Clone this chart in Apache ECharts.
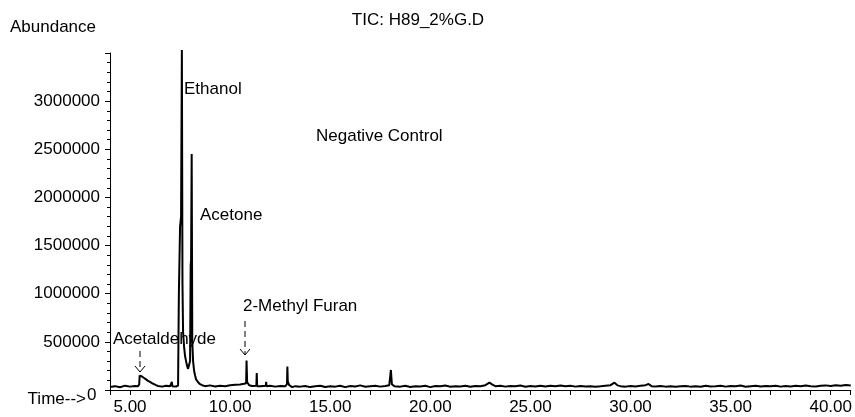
<!DOCTYPE html>
<html>
<head>
<meta charset="utf-8">
<script src="https://cdn.jsdelivr.net/npm/echarts@6/dist/echarts.min.js"></script>
<style>
html,body{margin:0;padding:0;background:#fff;}
#chart{width:855px;height:417px;}
</style>
</head>
<body>
<div id="chart"></div>
<script>
// Retention time (min)
const timeMin = [
  4.00, 4.25, 4.50, 4.75, 5.00, 5.25, 5.40,
  5.46, 5.48, 5.52, 5.60, 5.70, 5.80, 5.90, 6.00, 6.10, 6.20, 6.30, 6.40,
  6.60, 6.80, 7.00, 7.07, 7.09, 7.11, 7.20, 7.30, 7.40,
  7.43, 7.44, 7.47, 7.50, 7.55, 7.59, 7.62, 7.65, 7.70, 7.75, 7.80, 7.85, 7.90, 7.95, 8.00,
  8.03, 8.05, 8.08, 8.11, 8.15, 8.20, 8.25, 8.30, 8.40, 8.50, 8.60,
  8.75, 9.00, 9.25, 9.50, 9.75, 10.00, 10.25, 10.50, 10.70, 10.80,
  10.82, 10.85, 10.95, 11.10, 11.31, 11.33, 11.35, 11.50, 11.78, 11.80, 11.82,
  12.00, 12.25, 12.50, 12.75, 12.84, 12.86, 12.88, 12.95, 13.10, 13.25, 13.50, 13.75,
  14.00, 14.25, 14.50, 14.75, 15.00, 15.25, 15.50, 15.75, 16.00, 16.25, 16.50, 16.75,
  17.00, 17.25, 17.50, 17.75, 17.95, 18.03, 18.08, 18.20, 18.50, 18.75, 19.00, 19.25,
  19.50, 19.75, 20.00, 20.25, 20.50, 20.75, 21.00, 21.25, 21.50, 21.75, 22.00, 22.25,
  22.50, 22.75, 22.95, 23.10, 23.25, 23.50, 23.75, 24.00, 24.25, 24.50, 24.75, 25.00,
  25.25, 25.50, 25.75, 26.00, 26.25, 26.50, 26.75, 27.00, 27.25, 27.50, 27.75, 28.00,
  28.25, 28.50, 28.75, 29.00, 29.20, 29.35, 29.50, 29.75, 30.00, 30.25, 30.50, 30.75,
  30.90, 31.05, 31.25, 31.50, 31.75, 32.00, 32.25, 32.50, 32.75, 33.00, 33.25, 33.50,
  33.75, 34.00, 34.25, 34.50, 34.75, 35.00, 35.25, 35.50, 35.75, 36.00, 36.25, 36.50,
  36.75, 37.00, 37.25, 37.50, 37.75, 38.00, 38.25, 38.50, 38.75, 39.00, 39.25, 39.50,
  39.75, 40.00, 40.25, 40.50, 40.75, 41.00
];
// Abundance (counts)
const abundance = [
  32000, 40000, 28000, 45000, 35000, 42000, 38000,
  60000, 150000, 155000, 140000, 125000, 110000, 95000, 85000, 70000, 60000, 50000, 42000,
  35000, 45000, 38000, 40000, 85000, 40000, 42000, 36000, 45000,
  50000, 1000000, 1020000, 1700000, 1800000, 3530000, 1100000, 600000, 450000, 350000, 300000, 250000, 220000, 200000, 300000,
  1300000, 1350000, 2450000, 500000, 300000, 200000, 150000, 110000, 80000, 60000, 50000,
  40000, 48000, 36000, 45000, 40000, 50000, 55000, 58000, 65000, 70000,
  305000, 80000, 50000, 42000, 45000, 177000, 40000, 38000, 45000, 85000, 40000,
  45000, 35000, 42000, 38000, 60000, 243000, 90000, 50000, 30000, 40000, 35000, 42000,
  30000, 38000, 44000, 32000, 40000, 35000, 45000, 30000, 42000, 36000, 48000, 34000,
  40000, 45000, 35000, 42000, 50000, 208000, 60000, 40000, 35000, 45000, 32000, 40000,
  36000, 44000, 30000, 42000, 38000, 46000, 34000, 40000, 36000, 45000, 33000, 41000,
  38000, 50000, 76000, 55000, 40000, 45000, 35000, 42000, 38000, 46000, 33000, 41000,
  37000, 44000, 36000, 45000, 38000, 47000, 40000, 44000, 35000, 42000, 37000, 40000,
  33000, 38000, 45000, 50000, 76000, 48000, 40000, 35000, 42000, 37000, 44000, 50000,
  62000, 40000, 36000, 42000, 35000, 40000, 33000, 38000, 42000, 35000, 40000, 33000,
  44000, 36000, 40000, 45000, 35000, 42000, 38000, 46000, 34000, 40000, 44000, 36000,
  42000, 38000, 45000, 35000, 41000, 37000, 44000, 39000, 46000, 40000, 36000, 44000,
  48000, 42000, 50000, 45000, 52000, 46000
];
const xTickLabels = [5, 10, 15, 20, 25, 30, 35, 40];
const yTickLabels = [500000, 1000000, 1500000, 2000000, 2500000, 3000000];
const peakNames = ['Ethanol', 'Acetone', '2-Methyl Furan', 'Acetaldehyde'];

const FONT = 'Liberation Sans, Arial, sans-serif';
const FS = 17;

const chart = echarts.init(document.getElementById('chart'), null, {renderer: 'canvas'});
const seriesData = timeMin.map((t, i) => [t, abundance[i]]);

function txt(text, x, y, align) {
  return {
    type: 'text', x: x, y: y,
    style: {text: text, fill: '#000', font: FS + 'px ' + FONT, textAlign: align || 'left', textVerticalAlign: 'middle'}
  };
}
function dashedArrow(x, y1, y2) {
  return [
    {type: 'line', shape: {x1: x, y1: y1, x2: x, y2: y2}, style: {stroke: '#000', lineWidth: 1, lineDash: [6, 4]}},
    {type: 'polyline', shape: {points: [[x - 5, y2 - 6], [x, y2], [x + 5, y2 - 6]]}, style: {stroke: '#000', lineWidth: 1, fill: null}}
  ];
}

chart.setOption({
  animation: false,
  backgroundColor: '#fff',
  grid: {left: 110, right: 4, top: 53, bottom: 27, containLabel: false},
  xAxis: {
    type: 'value', min: 4, max: 41, interval: 1,
    axisLine: {lineStyle: {color: '#000', width: 1}},
    axisTick: {show: true, length: 5, lineStyle: {color: '#000'}},
    axisLabel: {
      margin: 9, color: '#000', fontSize: FS, fontFamily: FONT,
      showMinLabel: true, showMaxLabel: true,
      formatter: v => xTickLabels.indexOf(Math.round(v)) >= 0 && Math.abs(v - Math.round(v)) < 1e-6 ? v.toFixed(2) : ''
    },
    splitLine: {show: false}
  },
  yAxis: {
    type: 'value', min: 0, max: 3500000, interval: 500000,
    axisLine: {show: true, lineStyle: {color: '#000', width: 1}},
    axisTick: {show: true, length: 5, lineStyle: {color: '#000'}},
    minorTick: {show: true, splitNumber: 5, length: 3, lineStyle: {color: '#000'}},
    axisLabel: {
      margin: 10, color: '#000', fontSize: FS, fontFamily: FONT,
      formatter: v => yTickLabels.indexOf(v) >= 0 ? String(v) : ''
    },
    splitLine: {show: false},
    minorSplitLine: {show: false}
  },
  series: [{
    type: 'line',
    data: seriesData,
    showSymbol: false,
    clip: false,
    lineStyle: {color: '#000', width: 2},
    silent: true
  }],
  graphic: [
    txt('TIC: H89_2%G.D', 418, 20, 'center'),
    txt('Abundance', 10, 27),
    txt('Time-->', 86, 399, 'right'),
    txt('0', 87, 395),
    txt(peakNames[0], 184, 89),
    txt('Negative Control', 316, 136),
    txt(peakNames[1], 200, 215),
    txt(peakNames[2], 243, 306),
    txt(peakNames[3], 113, 339),
    ...dashedArrow(245, 321, 355),
    ...dashedArrow(140, 351, 372)
  ]
});
</script>
</body>
</html>
